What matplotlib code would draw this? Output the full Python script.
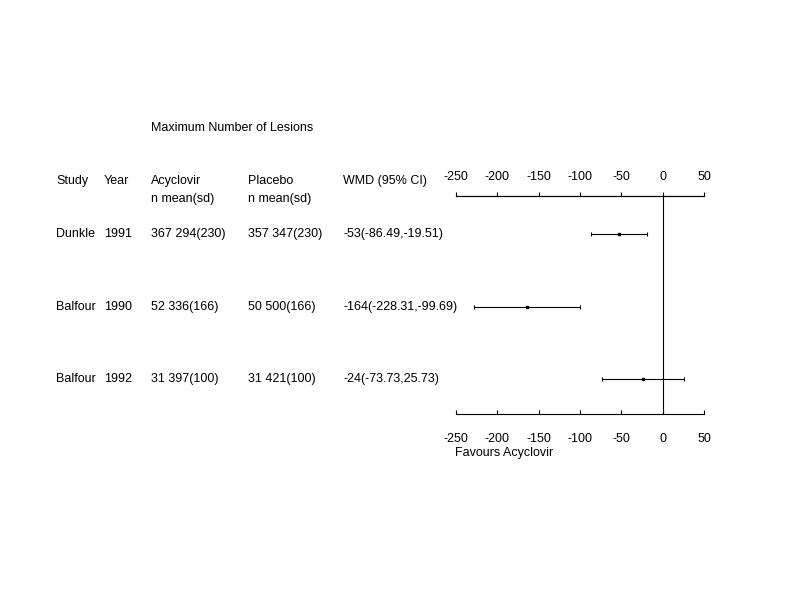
import matplotlib.pyplot as plt
from matplotlib.transforms import blended_transform_factory

plt.rcParams["font.family"] = ["Liberation Sans", "DejaVu Sans"]
plt.rcParams["font.size"] = 9
plt.rcParams["axes.unicode_minus"] = False

# ------------------------------------------------------------
# data
# ------------------------------------------------------------
study = ["Dunkle", "Balfour", "Balfour"]
year = [1991, 1990, 1992]
acy_n = [367, 52, 31]
acy_mean = [294, 336, 397]
acy_sd = [230, 166, 100]
pla_n = [357, 50, 31]
pla_mean = [347, 500, 421]
pla_sd = [230, 166, 100]
wmd = [-53, -164, -24]
ci_lo = [-86.49, -228.31, -73.73]
ci_hi = [-19.51, -99.69, 25.73]
xticks = [-250, -200, -150, -100, -50, 0, 50]

W, H = 792, 611
fig = plt.figure(figsize=(W / 100, H / 100), dpi=100)


def fx(px):
    return px / W


def fy(py):
    return 1 - py / H


# forest panel
ax = fig.add_axes([fx(456), fy(414), fx(704) - fx(456), fy(196) - fy(414)])
rows = list(range(len(study)))
ax.set_xlim(-250, 50)
ax.set_ylim(2.48, -0.524)

for s in ["left", "right"]:
    ax.spines[s].set_visible(False)
for s in ["top", "bottom"]:
    ax.spines[s].set_linewidth(0.8)
ax.set_yticks([])
ax.set_xticks(xticks)
ax.tick_params(axis="x", direction="in", length=3, width=0.8, pad=13.5)

top = ax.secondary_xaxis("top")
top.set_xticks(xticks)
top.spines["top"].set_linewidth(0.8)
top.tick_params(axis="x", direction="out", length=3, width=0.8, pad=6)

ax.axvline(0, color="black", lw=0.8)

xerr = [[w - l for w, l in zip(wmd, ci_lo)], [h - w for w, h in zip(wmd, ci_hi)]]
ax.errorbar(wmd, rows, xerr=xerr, fmt="s", ms=2, color="black",
            elinewidth=0.8, capsize=1.5, capthick=0.8)

# text columns
tr = blended_transform_factory(fig.transFigure, ax.transData)
for i in rows:
    ax.text(fx(56), i, study[i], transform=tr, va="center")
    ax.text(fx(104), i, str(year[i]), transform=tr, va="center")
    ax.text(fx(151), i, f"{acy_n[i]} {acy_mean[i]}({acy_sd[i]})", transform=tr, va="center")
    ax.text(fx(248), i, f"{pla_n[i]} {pla_mean[i]}({pla_sd[i]})", transform=tr, va="center")
    ax.text(fx(343), i, f"{wmd[i]:g}({ci_lo[i]:g},{ci_hi[i]:g})", transform=tr, va="center")

fig.text(fx(151), fy(128), "Maximum Number of Lesions", va="center")
fig.text(fx(56), fy(181), "Study", va="center")
fig.text(fx(104), fy(181), "Year", va="center")
fig.text(fx(151), fy(181), "Acyclovir", va="center")
fig.text(fx(151), fy(199), "n mean(sd)", va="center")
fig.text(fx(248), fy(181), "Placebo", va="center")
fig.text(fx(248), fy(199), "n mean(sd)", va="center")
fig.text(fx(343), fy(181), "WMD (95% CI)", va="center")
fig.text(fx(455), fy(453), "Favours Acyclovir", va="center")

fig.savefig("out.png", dpi=100)
